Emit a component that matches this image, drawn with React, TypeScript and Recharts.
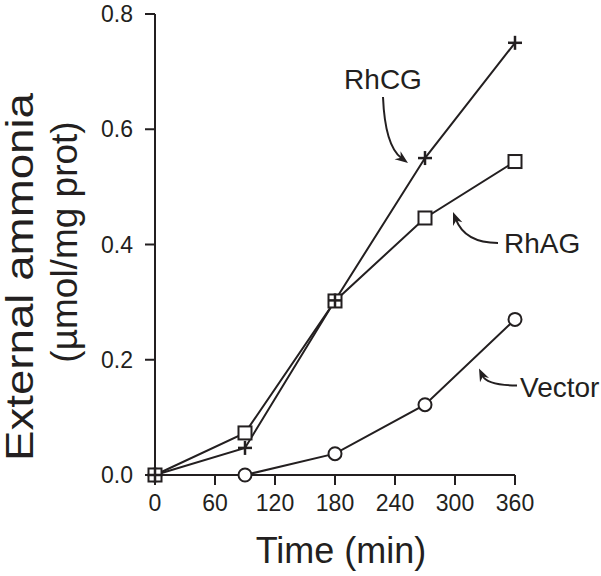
import { LineChart, Line, XAxis, YAxis, ReferenceDot, Label } from 'recharts';

const times = [0, 90, 180, 270, 360];
const rhcg = [0, 0.047, 0.303, 0.55, 0.75];
const rhag = [0, 0.073, 0.302, 0.446, 0.544];
const vector = [0, 0, 0.037, 0.122, 0.27];
const xTicks = [0, 60, 120, 180, 240, 300, 360];
const yTicks = [0, 0.2, 0.4, 0.6, 0.8];

const INK = '#231f20';
const FONT = '"Liberation Sans", Arial, Helvetica, sans-serif';

const data = times.map((t, i) => ({ t, rhcg: rhcg[i], rhag: rhag[i], vector: vector[i] }));

function PlusDot(props: any) {
  const { cx, cy } = props;
  if (cx == null || cy == null) return null;
  return (
    <g>
      <line x1={cx - 7} y1={cy} x2={cx + 7} y2={cy} stroke={INK} strokeWidth={2.5} />
      <line x1={cx} y1={cy - 7} x2={cx} y2={cy + 7} stroke={INK} strokeWidth={2.5} />
    </g>
  );
}

function SquareDot(props: any) {
  const { cx, cy } = props;
  if (cx == null || cy == null) return null;
  return <rect x={cx - 6.5} y={cy - 6.5} width={13} height={13} fill="#fff" stroke={INK} strokeWidth={2} />;
}

function CircleDot(props: any) {
  const { cx, cy } = props;
  if (cx == null || cy == null) return null;
  return <circle cx={cx} cy={cy} r={6.5} fill="#fff" stroke={INK} strokeWidth={2} />;
}

// curved arrow + text, positioned relative to a data point
function callout(text: string, start: number[], ctrl: number[], tip: number[], textPos: number[], anchor: string) {
  return (props: any) => {
    const { cx, cy } = props;
    if (cx == null || cy == null) return <g />;
    const sx = cx + start[0], sy = cy + start[1];
    const qx = cx + ctrl[0], qy = cy + ctrl[1];
    const ex = cx + tip[0], ey = cy + tip[1];
    const dx = ex - qx, dy = ey - qy;
    const len = Math.hypot(dx, dy) || 1;
    const ux = dx / len, uy = dy / len;
    const bx = ex - ux * 13, by = ey - uy * 13;
    const head = `M${ex},${ey} L${bx - uy * 5},${by + ux * 5} L${ex - ux * 9},${ey - uy * 9} L${bx + uy * 5},${by - ux * 5} Z`;
    return (
      <g>
        <path d={`M${sx},${sy} Q${qx},${qy} ${ex - ux * 8},${ey - uy * 8}`} fill="none" stroke={INK} strokeWidth={2} />
        <path d={head} fill={INK} />
        <text x={cx + textPos[0]} y={cy + textPos[1]} textAnchor={anchor as any} fontSize={28} fontFamily={FONT} fill={INK}>
          {text}
        </text>
      </g>
    );
  };
}

function YLabel() {
  return (
    <g fontFamily={FONT} fill={INK}>
      <text
        x={0}
        y={0}
        transform="translate(33,277) rotate(-90)"
        textAnchor="middle"
        fontSize={38}
        textLength={368}
        lengthAdjust="spacingAndGlyphs"
      >
        External ammonia
      </text>
      <text x={0} y={0} transform="translate(77,242) rotate(-90)" textAnchor="middle" fontSize={37}>
        (µmol/mg prot)
      </text>
    </g>
  );
}

function XLabel() {
  return (
    <text x={341} y={563} textAnchor="middle" fontSize={36} fontFamily={FONT} fill={INK}>
      Time (min)
    </text>
  );
}

export default function App() {
  return (
    <div style={{ position: 'absolute', left: 0, top: 0, background: '#fff' }}>
      <LineChart width={601} height={576} data={data} margin={{ top: 14, right: 86, left: 0, bottom: 0 }}>
        <XAxis
          dataKey="t"
          type="number"
          domain={[0, 360]}
          ticks={xTicks}
          height={101}
          tickSize={10}
          tickMargin={10}
          axisLine={{ stroke: INK, strokeWidth: 2 }}
          tickLine={{ stroke: INK, strokeWidth: 2 }}
          tick={{ fontSize: 23, fill: INK, fontFamily: FONT }}
        >
          <Label content={XLabel} />
        </XAxis>
        <YAxis
          type="number"
          domain={[0, 0.8]}
          ticks={yTicks}
          width={155}
          tickSize={10}
          tickMargin={12}
          tickFormatter={(v: number) => v.toFixed(1)}
          axisLine={{ stroke: INK, strokeWidth: 2 }}
          tickLine={{ stroke: INK, strokeWidth: 2 }}
          tick={{ fontSize: 23, fill: INK, fontFamily: FONT }}
        >
          <Label content={YLabel} />
        </YAxis>
        <Line dataKey="vector" stroke={INK} strokeWidth={2} dot={CircleDot} isAnimationActive={false} />
        <Line dataKey="rhag" stroke={INK} strokeWidth={2} dot={SquareDot} isAnimationActive={false} />
        <Line dataKey="rhcg" stroke={INK} strokeWidth={2} dot={PlusDot} isAnimationActive={false} />
        <ReferenceDot x={270} y={0.55} shape={callout('RhCG', [-42, -61], [-40, -12], [-17, 5], [-42, -69], 'middle')} />
        <ReferenceDot x={270} y={0.446} shape={callout('RhAG', [73, 25], [40, 25], [28, -6], [79, 35], 'start')} />
        <ReferenceDot x={360} y={0.27} shape={callout('Vector', [2, 66], [-28, 66], [-36, 49], [5, 78], 'start')} />
      </LineChart>
    </div>
  );
}
